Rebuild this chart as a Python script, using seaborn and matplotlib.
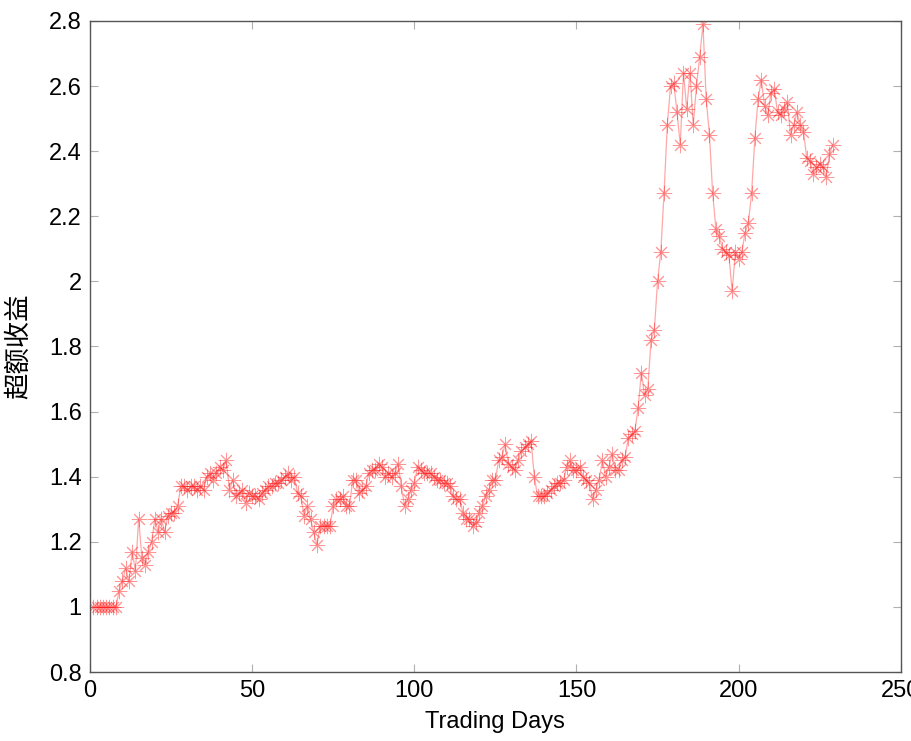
import matplotlib
matplotlib.use("Agg")
import matplotlib.pyplot as plt
import seaborn as sns
import pandas as pd
import numpy as np
from matplotlib.ticker import FuncFormatter

# ---- data ----
days = list(range(1, 230))
excess_return = [
    1.00, 1.00, 1.00, 1.00, 1.00, 1.00, 1.00, 1.00,               # 1-8
    1.05, 1.08, 1.12, 1.08, 1.17, 1.11, 1.27, 1.15, 1.13, 1.17,   # 9-18
    1.20, 1.27, 1.23, 1.27, 1.23, 1.28, 1.29, 1.29, 1.31, 1.37,   # 19-28
    1.37, 1.36, 1.37, 1.37, 1.36, 1.37, 1.36, 1.40, 1.41, 1.39,   # 29-38
    1.41, 1.43, 1.42, 1.45, 1.36, 1.39, 1.34, 1.35, 1.36, 1.32,   # 39-48
    1.35, 1.34, 1.34, 1.33, 1.35, 1.36, 1.37, 1.37, 1.38, 1.38,   # 49-58
    1.39, 1.40, 1.41, 1.39, 1.40, 1.35, 1.34, 1.28, 1.31, 1.27,   # 59-68
    1.23, 1.19, 1.25, 1.25, 1.25, 1.25, 1.31, 1.33, 1.33, 1.34,   # 69-78
    1.31, 1.31, 1.39, 1.39, 1.35, 1.36, 1.37, 1.41, 1.42, 1.42,   # 79-88
    1.44, 1.43, 1.40, 1.41, 1.40, 1.41, 1.44, 1.37, 1.31, 1.33,   # 89-98
    1.36, 1.38, 1.43, 1.42, 1.41, 1.41, 1.41, 1.40, 1.39, 1.39,   # 99-108
    1.38, 1.38, 1.37, 1.34, 1.33, 1.33, 1.29, 1.27, 1.27, 1.25,   # 109-118
    1.26, 1.29, 1.31, 1.34, 1.36, 1.39, 1.39, 1.45, 1.46, 1.50,   # 119-128
    1.44, 1.43, 1.42, 1.45, 1.48, 1.49, 1.50, 1.51, 1.40, 1.34,   # 129-138
    1.34, 1.34, 1.35, 1.36, 1.37, 1.38, 1.38, 1.39, 1.43, 1.45,   # 139-148
    1.42, 1.42, 1.43, 1.40, 1.39, 1.38, 1.33, 1.36, 1.39, 1.45,   # 149-158
    1.40, 1.43, 1.47, 1.42, 1.42, 1.45, 1.46, 1.52, 1.53, 1.54,   # 159-168
    1.61, 1.72, 1.65, 1.67, 1.82, 1.85, 2.00, 2.09, 2.27, 2.48,   # 169-178
    2.60, 2.61, 2.52, 2.42, 2.64, 2.53, 2.64, 2.48, 2.60, 2.69,   # 179-188
    2.79, 2.56, 2.45, 2.27, 2.16, 2.14, 2.10, 2.09, 2.08, 1.97,   # 189-198
    2.09, 2.07, 2.09, 2.15, 2.18, 2.27, 2.44, 2.56, 2.62, 2.54,   # 199-208
    2.51, 2.58, 2.59, 2.52, 2.51, 2.53, 2.55, 2.45, 2.48, 2.52,   # 209-218
    2.48, 2.46, 2.38, 2.37, 2.33, 2.35, 2.36, 2.35, 2.32, 2.39,   # 219-228
    2.42,                                                         # 229
]
x_ticks = [0, 50, 100, 150, 200, 250]
y_ticks = [0.8, 1.0, 1.2, 1.4, 1.6, 1.8, 2.0, 2.2, 2.4, 2.6, 2.8]
x_label = "Trading Days"
y_label = "超额收益"

df = pd.DataFrame({"day": days, "ret": excess_return})

sns.set_style("white")
plt.rcParams["font.family"] = ["Liberation Sans", "Noto Sans CJK SC", "DejaVu Sans"]
plt.rcParams["text.color"] = "black"
plt.rcParams["axes.labelcolor"] = "black"
plt.rcParams["xtick.color"] = "black"
plt.rcParams["ytick.color"] = "black"

fig = plt.figure(figsize=(9.12, 7.41), dpi=100)
ax = fig.add_axes([0.0987, 0.0931, 0.889, 0.8786])

sns.lineplot(
    data=df, x="day", y="ret", ax=ax,
    color="#ffa8a8", linewidth=0.9,
    marker=(8, 2, 0), markersize=11,
    markeredgecolor=(1, 0.1, 0.1, 0.45), markerfacecolor="none",
    markeredgewidth=0.7,
)

ax.set_xlim(0, 250)
ax.set_ylim(0.8, 2.8)
ax.set_xticks(x_ticks)
ax.set_yticks(y_ticks)
ax.yaxis.set_major_formatter(FuncFormatter(lambda v, p: f"{v:g}"))
ax.xaxis.set_major_formatter(FuncFormatter(lambda v, p: f"{v:g}"))

ax.tick_params(axis="both", direction="in", length=6, width=0.8,
               color="#b0b0b0", labelcolor="black", labelsize=17, pad=6,
               top=True, right=True, bottom=True, left=True)
for s in ax.spines.values():
    s.set_visible(True)
    s.set_color("#555555")
    s.set_linewidth(1.0)

ax.set_xlabel(x_label, fontsize=17, labelpad=6, color="black")
ax.set_ylabel(y_label, fontsize=19, labelpad=12, color="black",
              family=["Noto Sans CJK SC", "DejaVu Sans"])

fig.savefig("out.png", dpi=100)
